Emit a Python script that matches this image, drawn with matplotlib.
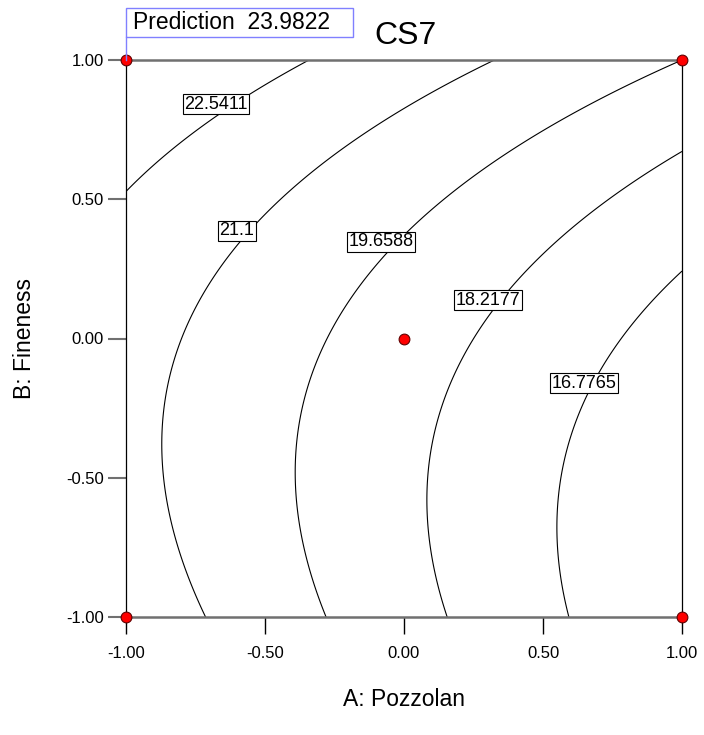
import numpy as np
import matplotlib
matplotlib.use("Agg")
import matplotlib.pyplot as plt
from matplotlib.lines import Line2D
from matplotlib.patches import Rectangle

plt.rcParams['font.family'] = ['Liberation Sans', 'DejaVu Sans']

# quadratic response model for CS7 (coded factors), fitted to points
coef_names = ["b0", "A", "B", "AB", "A2", "B2"]
coef_vals = [18.901, -2.7333, 1.5350, 0.5727, 0.0185, 1.3647]

levels = [16.7765, 18.2177, 19.6588, 21.1, 22.5411]
level_labels = ["16.7765", "18.2177", "19.6588", "21.1", "22.5411"]
# where each label box sits
label_xy = [(0.647, -0.160), (0.302, 0.138), (-0.083, 0.347), (-0.601, 0.386), (-0.676, 0.842)]

design_A = [-1, -1, 1, 1, 0]
design_B = [-1, 1, -1, 1, 0]

pred_value = 23.9822

ticks = [-1.0, -0.5, 0.0, 0.5, 1.0]


def model(a, b):
    c = dict(zip(coef_names, coef_vals))
    return (c["b0"] + c["A"] * a + c["B"] * b + c["AB"] * a * b
            + c["A2"] * a ** 2 + c["B2"] * b ** 2)


W, H = 704, 735
fig = plt.figure(figsize=(W / 100, H / 100), dpi=100)
ax = fig.add_axes([126 / W, 1 - 617 / H, 556 / W, 557 / H])

g = np.linspace(-1, 1, 301)
AA, BB = np.meshgrid(g, g)
ax.contour(AA, BB, model(AA, BB), levels=levels, colors="black", linewidths=0.8)

for lab, (x, y) in zip(level_labels, label_xy):
    ax.text(x, y, lab, ha="center", va="center", fontsize=13, zorder=5,
            bbox=dict(boxstyle="square,pad=0.07", fc="white", ec="black", lw=0.8))

ax.scatter(design_A, design_B, s=60, c="red", edgecolors="#600000",
           linewidths=0.8, zorder=6, clip_on=False)

ax.set_xlim(-1, 1)
ax.set_ylim(-1, 1)
ax.set_xticks(ticks)
ax.set_yticks(ticks)
ax.set_xticklabels([f"{t:.2f}" for t in ticks])
ax.set_yticklabels([f"{t:.2f}" for t in ticks])
ax.tick_params(axis="x", direction="out", length=12, width=1, color="black",
               labelsize=12, pad=9)
ax.tick_params(axis="y", direction="out", length=13, width=1.5, color="#707070",
               labelsize=12, pad=3)

for side in ["top", "bottom"]:
    ax.spines[side].set_color("#707070")
    ax.spines[side].set_linewidth(1.8)
for side in ["left", "right"]:
    ax.spines[side].set_color("black")
    ax.spines[side].set_linewidth(0.9)

ax.set_xlabel("A: Pozzolan", fontsize=16.5, va="center")
ax.xaxis.set_label_coords(0.5, (617 - 700) / 557)
ax.set_ylabel("B: Fineness", fontsize=16.5, va="center")
ax.yaxis.set_label_coords((25 - 126) / 556, 0.5)

fig.text(406 / W, 1 - 36 / H, "CS7", ha="center", va="center", fontsize=23)

# prediction flag
fig.add_artist(Rectangle((126 / W, 1 - 37 / H), 227 / W, 29 / H, transform=fig.transFigure,
                         fc="white", ec="#8080ff", lw=1))
fig.text(133 / W, 1 - 22.5 / H, f"Prediction  {pred_value:.4f}", ha="left", va="center",
         fontsize=16.5)
fig.add_artist(Line2D([126 / W, 126 / W], [1 - 37 / H, 1 - 60 / H],
                      transform=fig.transFigure, color="#8080ff", lw=1))

fig.savefig("out.png", dpi=100)
